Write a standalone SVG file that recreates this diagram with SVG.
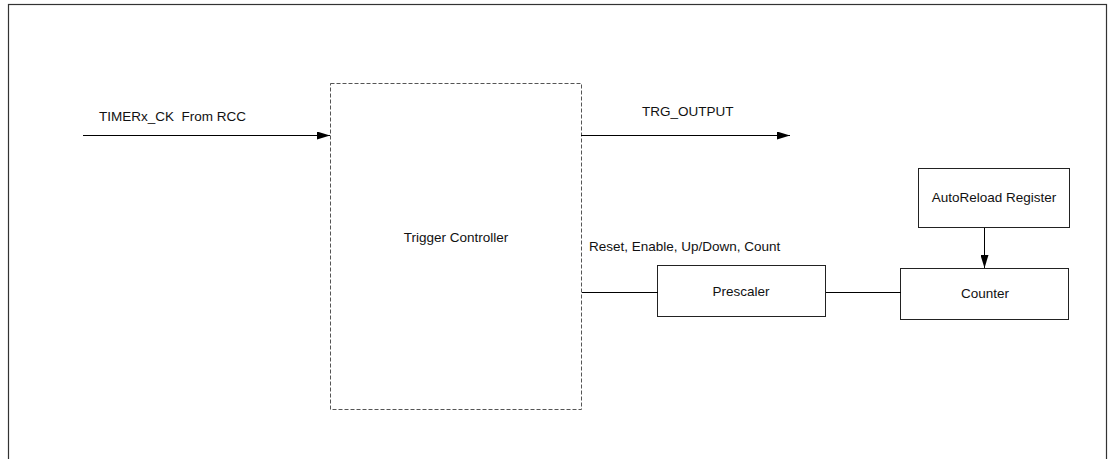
<svg xmlns="http://www.w3.org/2000/svg" width="1108" height="459" viewBox="0 0 1108 459">
<defs>
<marker id="arr" markerWidth="13" markerHeight="8" refX="13" refY="4" orient="auto" markerUnits="userSpaceOnUse">
<path d="M0,0 L13,4 L0,8 Z" fill="#000"/>
</marker>
<style>
text{font-family:"Liberation Sans",Arial,sans-serif;font-size:13.5px;fill:#111;white-space:pre}
.box{fill:#fff;stroke:#222;stroke-width:1}
.ln{stroke:#000;stroke-width:1;fill:none}
</style>
</defs>
<rect x="0" y="0" width="1108" height="459" fill="#fff"/>
<rect x="8.5" y="4.5" width="1098" height="470" fill="none" stroke="#333" stroke-width="1.2"/>
<g id="trigger-controller">
<rect x="330.5" y="83.5" width="251" height="326" fill="#fff" stroke="#555" stroke-width="1" stroke-dasharray="4,2"/>
<text x="456" y="242" text-anchor="middle">Trigger Controller</text>
</g>
<g id="prescaler">
<rect class="box" x="657.5" y="265.5" width="168" height="51"/>
<text x="741" y="296" text-anchor="middle">Prescaler</text>
</g>
<g id="counter">
<rect class="box" x="900.5" y="268.5" width="168" height="51"/>
<text x="985" y="298" text-anchor="middle">Counter</text>
</g>
<g id="autoreload">
<rect class="box" x="918.5" y="168.5" width="151" height="59"/>
<text x="994" y="202" text-anchor="middle">AutoReload Register</text>
</g>
<g id="connectors">
<line class="ln" x1="83" y1="135.5" x2="330" y2="135.5" marker-end="url(#arr)"/>
<text x="99" y="121" xml:space="preserve">TIMERx_CK  From RCC</text>
<line class="ln" x1="581" y1="135.5" x2="790" y2="135.5" marker-end="url(#arr)"/>
<text x="642" y="116">TRG_OUTPUT</text>
<text x="589" y="251">Reset, Enable, Up/Down, Count</text>
<line class="ln" x1="582" y1="292.5" x2="658" y2="292.5"/>
<line class="ln" x1="826" y1="292.5" x2="901" y2="292.5"/>
<line class="ln" x1="984.5" y1="228" x2="984.5" y2="268" marker-end="url(#arr)"/>
</g>
</svg>
